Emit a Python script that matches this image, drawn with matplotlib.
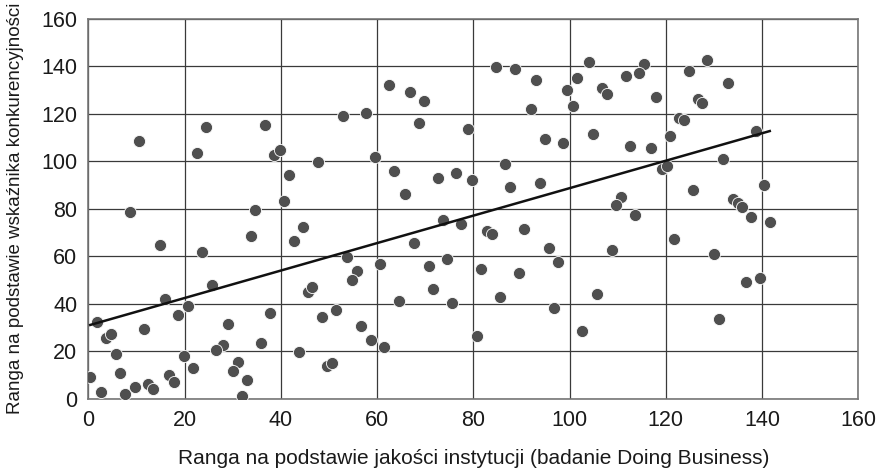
import numpy as np
import matplotlib
matplotlib.use('Agg')
import matplotlib.pyplot as plt

plt.rcParams['font.family'] = ['Liberation Sans', 'DejaVu Sans']

# Ranga jakości instytucji (Doing Business) vs ranga wskaźnika konkurencyjności
ranga_db = [
    10.5, 24.5, 36.8, 22.6, 38.5, 39.8, 8.6, 34.7, 40.7, 14.8,
    33.9, 23.6, 25.7, 15.9, 20.7, 18.7, 37.7, 1.8, 11.5, 29.0,
    3.6, 4.8, 28.0, 26.6, 35.8, 5.7, 19.8, 31.0, 30.0, 21.7,
    0.4, 6.6, 16.8, 17.9, 32.9, 2.7, 7.6, 9.6, 12.5, 13.5,
    32.0,
    62.5, 66.8, 69.7, 52.9, 57.7, 68.8, 78.8, 47.7, 59.6, 41.8,
    63.5, 72.7, 76.5, 79.7, 65.9, 44.6, 42.7, 73.6, 77.5, 67.7,
    53.8, 60.6, 55.8, 54.8, 70.7, 74.5, 45.6, 46.5, 71.6, 64.5,
    75.5, 48.6, 51.4, 56.7, 58.7, 61.5, 43.8, 49.7, 50.6,
    84.7, 88.6, 104.0, 115.5, 114.5, 111.7, 101.5, 93.0, 99.5, 106.8,
    107.8, 118.0, 91.9, 100.7, 94.9, 98.7, 104.9, 112.6, 117.0, 86.6,
    87.6, 93.9, 110.7, 109.7, 82.8, 83.8, 90.5, 95.7, 97.7, 81.7,
    89.5, 85.6, 96.8, 80.8, 102.6, 105.8, 108.8, 113.5,
    128.6, 124.8, 132.9, 126.6, 127.5, 122.8, 123.7, 120.9, 138.7, 131.9,
    119.3, 120.2, 125.7, 140.5, 133.9, 134.9, 135.8, 137.8, 141.6, 121.8,
    130.0, 136.7, 139.6, 131.0,
]
ranga_konk = [
    108.5, 114.4, 115.2, 103.6, 102.6, 104.7, 78.5, 79.5, 83.1, 64.6,
    68.5, 61.6, 47.9, 42.1, 39.2, 35.1, 36.2, 32.4, 29.5, 31.3,
    25.7, 27.4, 22.5, 20.5, 23.6, 18.7, 17.8, 15.6, 11.8, 12.8,
    9.0, 11.0, 10.0, 7.0, 7.9, 2.9, 2.0, 4.9, 6.2, 3.9,
    1.1,
    132.0, 129.0, 125.2, 119.2, 120.3, 116.2, 113.5, 99.7, 101.8, 94.1,
    95.7, 92.9, 94.9, 92.0, 86.2, 72.4, 66.5, 75.2, 73.4, 65.6,
    59.8, 56.8, 53.9, 50.0, 55.7, 58.7, 45.0, 46.9, 46.1, 41.1,
    40.2, 34.3, 37.3, 30.5, 24.6, 21.8, 19.5, 13.9, 14.9,
    139.8, 138.7, 141.6, 140.8, 137.0, 135.9, 134.9, 134.1, 130.0, 131.0,
    128.2, 126.9, 122.1, 123.2, 109.5, 107.5, 111.5, 106.5, 105.7, 98.8,
    89.0, 91.0, 85.0, 81.4, 70.6, 69.5, 71.3, 63.6, 57.7, 54.7,
    52.9, 42.9, 38.3, 26.5, 28.5, 44.0, 62.6, 77.3,
    142.7, 137.8, 133.0, 126.3, 124.4, 118.3, 117.3, 110.6, 112.6, 100.8,
    96.8, 98.0, 88.0, 90.1, 84.0, 82.3, 80.8, 76.4, 74.3, 67.4,
    60.8, 49.0, 50.8, 33.4,
]

x = np.array(ranga_db)
y = np.array(ranga_konk)

# Linia trendu (regresja liniowa)
a, b = np.polyfit(x, y, 1)
xl = np.array([x.min(), x.max()])
yl = a * xl + b

fig = plt.figure(figsize=(8.77, 4.71), dpi=100)
ax = fig.add_axes([0.1007, 0.1535, 0.878, 0.8068])

ax.scatter(x, y, s=76, color='#4f4f4f', edgecolors='white', linewidths=0.6, zorder=3)
ax.plot(xl, yl, color='#111111', lw=1.8, zorder=4)

ax.set_xlim(0, 160)
ax.set_ylim(0, 160)
ax.set_xticks(np.arange(0, 161, 20))
ax.set_yticks(np.arange(0, 161, 20))
ax.grid(True, color='#3a3a3a', lw=0.9)
ax.set_axisbelow(True)
for s in ax.spines.values():
    s.set_color('#777777')
    s.set_linewidth(1.2)
ax.tick_params(length=0, labelsize=15.5, pad=8, colors='#1a1a1a')

ax.set_xlabel('Ranga na podstawie jakości instytucji (badanie Doing Business)', fontsize=15,
              labelpad=13, color='#1a1a1a')
ax.set_ylabel('Ranga na podstawie wskaźnika konkurencyjności', fontsize=13.5,
              labelpad=12, color='#1a1a1a')

fig.savefig('out.png', dpi=100)
